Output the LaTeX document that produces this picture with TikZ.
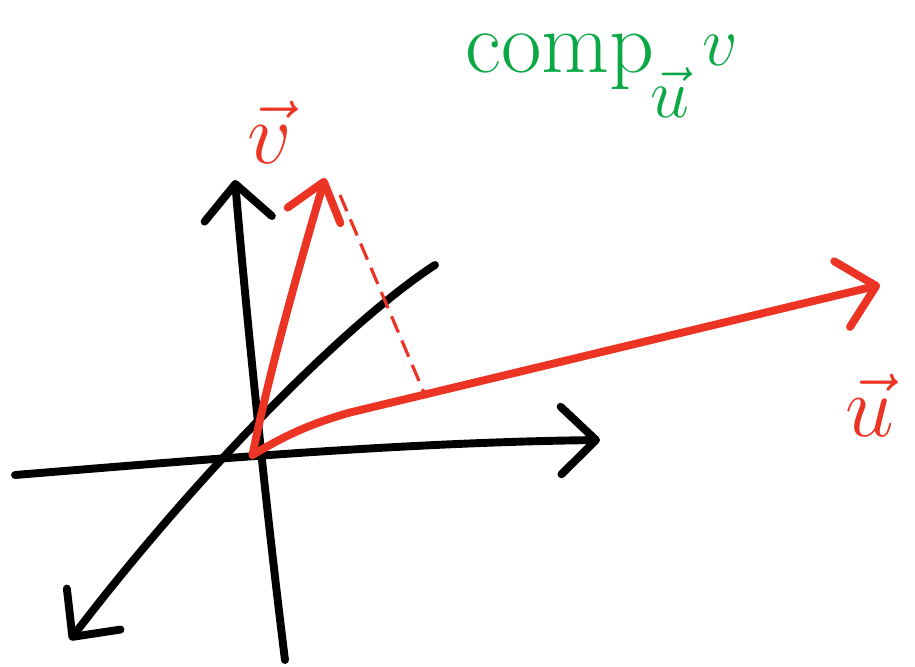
\documentclass[tikz,border=0pt]{standalone}
\usetikzlibrary{arrows.meta}
\definecolor{penred}{RGB}{236,52,36}
\definecolor{pengreen}{RGB}{12,168,70}
\tikzset{
  barb/.style={-{Straight Barb[length=0.7cm,width=1.35cm,line cap=round,line join=round]}},
  axis/.style={black,line width=4.5pt,line cap=round,barb},
  vec/.style={penred,line width=4.5pt,line cap=round,barb},
  proj/.style={penred,line width=1.8pt,dash pattern=on 10pt off 5pt},
  redlbl/.style={text=penred,font=\Huge,scale=2,inner sep=0pt},
  greenlbl/.style={text=pengreen,font=\fontsize{50}{56}\selectfont,inner sep=0pt},
  greenmath/.style={text=pengreen,font=\Huge,scale=1.6,inner sep=0pt}
}
\begin{document}
\begin{tikzpicture}
\useasboundingbox (0,0) rectangle (18.3,-13.34);
\clip (0,0) rectangle (18.3,-13.34);
% points
\coordinate (O) at (5.05,-9.1);
\coordinate (XL) at (0.3,-9.5);
\coordinate (XR) at (12.0,-8.8);
\coordinate (YB) at (5.7,-13.2);
\coordinate (YT) at (4.7,-3.6);
\coordinate (ZT) at (8.7,-5.3);
\coordinate (ZB) at (1.4,-12.8);
\coordinate (VT) at (6.5,-3.56);
\coordinate (UB) at (7.0,-8.25);
\coordinate (UT) at (17.6,-5.7);
\coordinate (DA) at (6.8,-3.9);
\coordinate (DB) at (8.5,-7.9);
% axes
\draw[axis] (XL) .. controls (4,-9.2) and (8,-8.85) .. (XR);
\draw[axis] (YB) .. controls (5.3,-10) and (4.9,-6) .. (YT);
\draw[axis] (ZT) .. controls (7,-6.4) and (4,-9.4) .. (ZB);
% vectors
\draw[vec,-{Straight Barb[length=0.7cm,width=1.1cm,line cap=round,line join=round]}] (O) .. controls (5.35,-7.6) and (5.9,-5.6) .. (VT);
\draw[vec] (O) .. controls (5.8,-8.65) and (6.3,-8.45) .. (UB) -- (UT);
\draw[proj] (DA) -- (DB);
% labels
\node[redlbl] (lv) at (5.4,-2.65) {$\vec{v}$};
\node[redlbl] (lu) at (17.4,-8.1) {$\vec{u}$};
\node[greenlbl,anchor=base west] (comp) at (9.3,-1.45) {comp};
\node[greenmath] (cu) at (13.4,-1.85) {$\vec{u}$};
\node[greenmath] (cv) at (14.4,-1.0) {$v$};
\end{tikzpicture}
\end{document}
